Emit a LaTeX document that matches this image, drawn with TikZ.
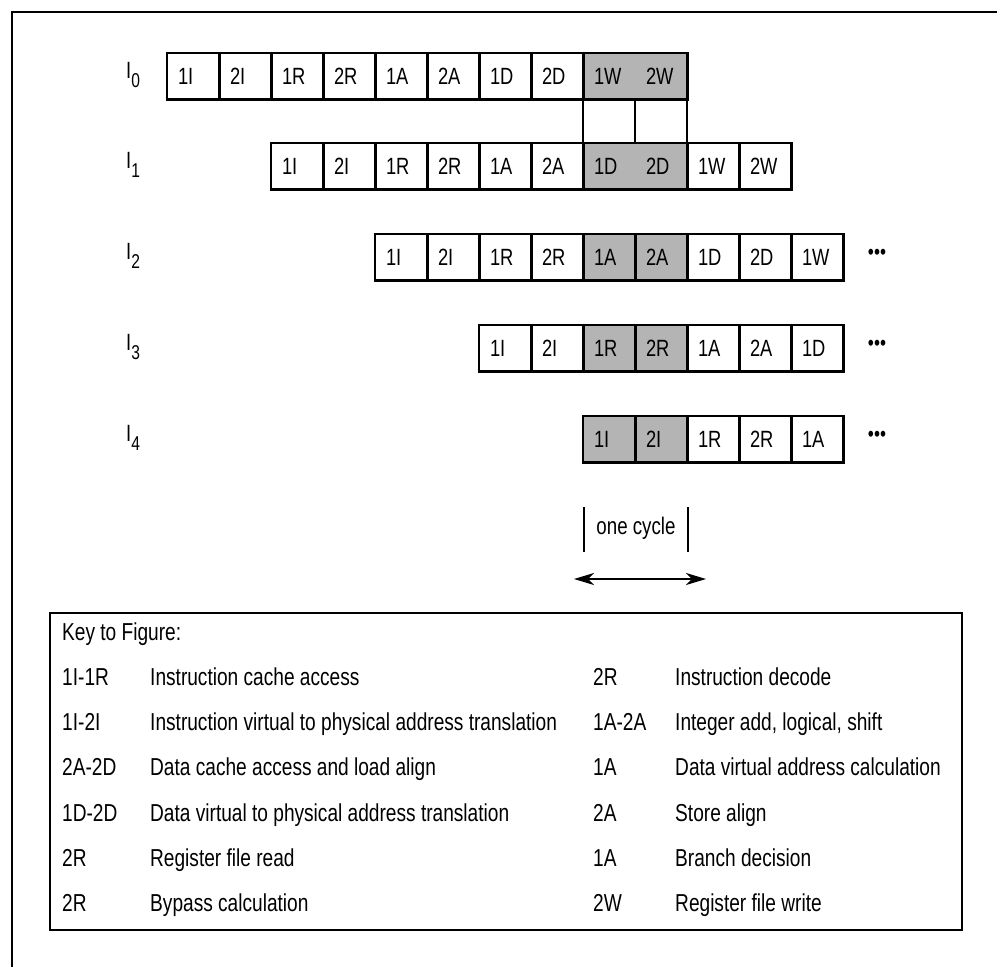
\documentclass[tikz,border=0pt]{standalone}
\usepackage{fontspec}
\setmainfont{Liberation Sans}[FakeStretch=0.78]
\usetikzlibrary{arrows.meta,backgrounds}
\definecolor{greyc}{RGB}{180,180,180}
\begin{document}
\begin{tikzpicture}[x=1pt,y=-1pt,
  lw/.style={line width=2.6pt},
  thin2/.style={line width=2pt},
  cell/.style={minimum height=46pt, text width=30pt, inner xsep=11pt, inner ysep=0pt, align=left, font=\fontsize{23.5}{23.5}\selectfont},
  emptycell/.style={draw, lw, minimum width=52pt, minimum height=44pt, inner sep=0pt},
  ktext/.style={anchor=base west, inner sep=0pt, font=\fontsize{24.5}{24.5}\selectfont},
  lab/.style={anchor=base west, inner sep=0pt, font=\fontsize{23.5}{23.5}\selectfont},
  dotsn/.style={inner sep=0pt, font=\fontsize{22}{22}\selectfont},
  tip/.style={line width=2pt, {Stealth[length=20pt,width=12pt,inset=6pt]}-{Stealth[length=20pt,width=12pt,inset=6pt]}}]
\useasboundingbox (0,0) rectangle (997,967);
% outer frame
\draw[lw] (12,967) -- (12,12) -- (997,12);

% ---- row I0
\foreach \t [count=\i from 0] in {1I,2I,1R,2R,1A,2A,1D,2D,1W,2W}
  \node[cell] (r0c\i) at ({193+52*\i},76) {\t};
\begin{scope}[on background layer]
  \fill[greyc] (r0c8.north west) rectangle (r0c9.south east);
\end{scope}
\draw[lw] (r0c0.north west) rectangle (r0c9.south east);
\foreach \i in {0,...,7} \draw[lw] (r0c\i.north east) -- (r0c\i.south east);
\node[lab] (l0) at (126,78) {I\raisebox{-9pt}{\fontsize{20}{20}\selectfont 0}};

% connector cells
\node[emptycell] (k0) at (609,121) {};
\node[emptycell] (k1) at (661,121) {};

% ---- row I1
\foreach \t [count=\i from 0] in {1I,2I,1R,2R,1A,2A,1D,2D,1W,2W}
  \node[cell] (r1c\i) at ({297+52*\i},166) {\t};
\begin{scope}[on background layer]
  \fill[greyc] (r1c6.north west) rectangle (r1c7.south east);
\end{scope}
\draw[lw] (r1c0.north west) rectangle (r1c9.south east);
\foreach \i in {0,...,5,7,8} \draw[lw] (r1c\i.north east) -- (r1c\i.south east);
\node[lab] (l1) at (126,168) {I\raisebox{-9pt}{\fontsize{20}{20}\selectfont 1}};

% ---- row I2
\foreach \t [count=\i from 0] in {1I,2I,1R,2R,1A,2A,1D,2D,1W}
  \node[cell] (r2c\i) at ({401+52*\i},257) {\t};
\begin{scope}[on background layer]
  \fill[greyc] (r2c4.north west) rectangle (r2c5.south east);
\end{scope}
\draw[lw] (r2c0.north west) rectangle (r2c8.south east);
\foreach \i in {0,...,7} \draw[lw] (r2c\i.north east) -- (r2c\i.south east);
\node[lab] (l2) at (126,259) {I\raisebox{-9pt}{\fontsize{20}{20}\selectfont 2}};
\node[dotsn] (d2) at (877,254) {•••};

% ---- row I3
\foreach \t [count=\i from 0] in {1I,2I,1R,2R,1A,2A,1D}
  \node[cell] (r3c\i) at ({505+52*\i},348) {\t};
\begin{scope}[on background layer]
  \fill[greyc] (r3c2.north west) rectangle (r3c3.south east);
\end{scope}
\draw[lw] (r3c0.north west) rectangle (r3c6.south east);
\foreach \i in {0,...,5} \draw[lw] (r3c\i.north east) -- (r3c\i.south east);
\node[lab] (l3) at (126,350) {I\raisebox{-9pt}{\fontsize{20}{20}\selectfont 3}};
\node[dotsn] (d3) at (877,345) {•••};

% ---- row I4
\foreach \t [count=\i from 0] in {1I,2I,1R,2R,1A}
  \node[cell] (r4c\i) at ({609+52*\i},439) {\t};
\begin{scope}[on background layer]
  \fill[greyc] (r4c0.north west) rectangle (r4c1.south east);
\end{scope}
\draw[lw] (r4c0.north west) rectangle (r4c4.south east);
\foreach \i in {0,...,3} \draw[lw] (r4c\i.north east) -- (r4c\i.south east);
\node[lab] (l4) at (126,441) {I\raisebox{-9pt}{\fontsize{20}{20}\selectfont 4}};
\node[dotsn] (d4) at (877,436) {•••};

% ---- one cycle
\coordinate (b1t) at (584,507); \coordinate (b1b) at (584,552);
\coordinate (b2t) at (688,507); \coordinate (b2b) at (688,552);
\draw[thin2] (b1t) -- (b1b);
\draw[thin2] (b2t) -- (b2b);
\node[anchor=base, inner sep=0pt, font=\fontsize{24}{24}\selectfont] (oc) at (636,534) {one cycle};
\coordinate (a1) at (574,579); \coordinate (a2) at (706,579);
\draw[tip] (a1) -- (a2);

% ---- key
\draw[lw] (50,613) rectangle (962,930);
\node[ktext] (kt) at (62,640) {Key to Figure:};
\foreach \c/\d/\cc/\dd [count=\j from 1] in {
  1I-1R/Instruction cache access/2R/Instruction decode,
  1I-2I/Instruction virtual to physical address translation/1A-2A/{Integer add, logical, shift},
  2A-2D/Data cache access and load align/1A/Data virtual address calculation,
  1D-2D/Data virtual to physical address translation/2A/Store align,
  2R/Register file read/1A/Branch decision,
  2R/Bypass calculation/2W/Register file write}{
  \node[ktext] (kc\j) at (62,{640+45.3*\j}) {\c};
  \node[ktext] (kd\j) at (150,{640+45.3*\j}) {\d};
  \node[ktext] (kr\j) at (593,{640+45.3*\j}) {\cc};
  \node[ktext] (ke\j) at (675,{640+45.3*\j}) {\dd};
}
\end{tikzpicture}
\end{document}
